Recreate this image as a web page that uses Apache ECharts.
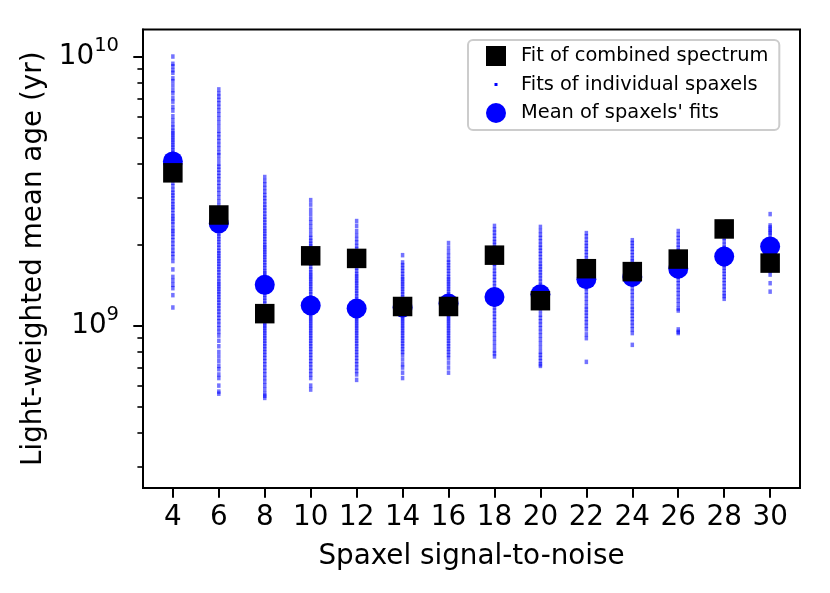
<!DOCTYPE html>
<html>
<head>
<meta charset="utf-8">
<script src="https://cdn.jsdelivr.net/npm/echarts@6/dist/echarts.min.js"></script>
<style>
  html, body { margin: 0; padding: 0; background: #fff; }
  #chart { width: 830px; height: 593px; }
</style>
</head>
<body>
<div id="chart"></div>
<script>
// signal-to-noise bins
var snr = [4, 6, 8, 10, 12, 14, 16, 18, 20, 22, 24, 26, 28, 30];

// ages below are in Gyr (1e9 yr)
var combinedFit = [3.70, 2.58, 1.11, 1.82, 1.78, 1.18, 1.18, 1.83, 1.24, 1.63, 1.59, 1.77, 2.29, 1.71];
var meanOfSpaxels = [4.08, 2.40, 1.42, 1.19, 1.16, 1.17, 1.21, 1.28, 1.31, 1.49, 1.52, 1.63, 1.81, 1.97];

// individual spaxel fits, one list per S/N bin
var spax4 = [10.0, 9.4, 9.2, 8.9, 8.7, 8.3, 8.1, 7.8, 7.5, 7.3, 7.0, 6.8, 6.5, 6.3, 6.0, 5.8, 5.6, 5.45, 5.3, 5.2, 5.1, 5.0, 4.9, 4.8, 4.7, 4.6, 4.5, 4.4, 4.3, 4.2, 4.1, 4.0, 3.9, 3.8, 3.7, 3.6, 3.5, 3.4, 3.3, 3.2, 3.12, 3.05, 2.98, 2.9, 2.83, 2.76, 2.7, 2.62, 2.55, 2.5, 2.44, 2.38, 2.3, 2.25, 2.2, 2.14, 2.08, 2.02, 1.96, 1.9, 1.85, 1.8, 1.74, 1.62, 1.52, 1.47, 1.42, 1.38, 1.3, 1.17];
var spax6 = [7.55, 7.3, 7.1, 6.9, 6.7, 6.5, 6.3, 6.1, 5.9, 5.7, 5.5, 5.3, 5.15, 5.0, 4.85, 4.7, 4.55, 4.4, 4.3, 4.15, 4.0, 3.9, 3.8, 3.7, 3.6, 3.5, 3.4, 3.3, 3.2, 3.1, 3.0, 2.9, 2.8, 2.7, 2.6, 2.5, 2.4, 2.3, 2.2, 2.15, 2.1, 2.05, 2.0, 1.95, 1.9, 1.86, 1.82, 1.78, 1.74, 1.7, 1.66, 1.62, 1.58, 1.54, 1.5, 1.46, 1.43, 1.4, 1.37, 1.34, 1.31, 1.28, 1.25, 1.22, 1.19, 1.16, 1.13, 1.1, 1.07, 1.04, 1.01, 0.98, 0.95, 0.92, 0.88, 0.84, 0.8, 0.77, 0.74, 0.71, 0.69, 0.66, 0.64, 0.6, 0.57, 0.56];
var spax8 = [3.57, 3.45, 3.35, 3.25, 3.15, 3.06, 2.98, 2.9, 2.82, 2.75, 2.68, 2.61, 2.54, 2.48, 2.42, 2.36, 2.3, 2.25, 2.2, 2.15, 2.1, 2.05, 2.0, 1.96, 1.92, 1.88, 1.84, 1.8, 1.76, 1.72, 1.68, 1.64, 1.6, 1.57, 1.54, 1.51, 1.48, 1.45, 1.42, 1.39, 1.36, 1.33, 1.3, 1.27, 1.24, 1.21, 1.18, 1.15, 1.12, 1.1, 1.08, 1.06, 1.04, 1.02, 1.0, 0.98, 0.96, 0.94, 0.92, 0.9, 0.88, 0.86, 0.84, 0.82, 0.8, 0.78, 0.76, 0.74, 0.72, 0.7, 0.68, 0.66, 0.64, 0.62, 0.6, 0.58, 0.56, 0.55, 0.54];
var spax10 = [2.93, 2.82, 2.7, 2.6, 2.5, 2.42, 2.34, 2.26, 2.18, 2.12, 2.07, 2.02, 1.98, 1.94, 1.9, 1.86, 1.82, 1.78, 1.74, 1.7, 1.66, 1.62, 1.58, 1.55, 1.52, 1.49, 1.46, 1.43, 1.4, 1.37, 1.34, 1.31, 1.28, 1.25, 1.22, 1.19, 1.16, 1.13, 1.1, 1.08, 1.06, 1.04, 1.02, 1.0, 0.98, 0.96, 0.94, 0.92, 0.9, 0.88, 0.86, 0.84, 0.82, 0.8, 0.78, 0.76, 0.74, 0.72, 0.7, 0.68, 0.66, 0.64, 0.6, 0.58];
var spax12 = [2.45, 2.35, 2.25, 2.17, 2.1, 2.04, 1.98, 1.93, 1.88, 1.84, 1.8, 1.76, 1.72, 1.68, 1.64, 1.6, 1.56, 1.53, 1.5, 1.47, 1.44, 1.41, 1.38, 1.35, 1.32, 1.29, 1.26, 1.23, 1.2, 1.17, 1.14, 1.12, 1.1, 1.08, 1.06, 1.04, 1.02, 1.0, 0.98, 0.96, 0.94, 0.92, 0.9, 0.88, 0.86, 0.84, 0.82, 0.8, 0.78, 0.76, 0.74, 0.72, 0.7, 0.68, 0.66, 0.63];
var spax14 = [1.83, 1.72, 1.68, 1.64, 1.6, 1.56, 1.52, 1.49, 1.46, 1.43, 1.4, 1.37, 1.34, 1.31, 1.28, 1.25, 1.22, 1.19, 1.16, 1.13, 1.1, 1.08, 1.06, 1.04, 1.02, 1.0, 0.98, 0.96, 0.94, 0.92, 0.9, 0.88, 0.86, 0.84, 0.82, 0.8, 0.78, 0.75, 0.72, 0.7, 0.67, 0.64];
var spax16 = [2.03, 1.95, 1.88, 1.82, 1.76, 1.72, 1.68, 1.64, 1.6, 1.56, 1.52, 1.49, 1.46, 1.43, 1.4, 1.37, 1.34, 1.31, 1.28, 1.25, 1.22, 1.19, 1.16, 1.13, 1.1, 1.08, 1.06, 1.04, 1.02, 1.0, 0.98, 0.96, 0.94, 0.92, 0.9, 0.88, 0.86, 0.84, 0.82, 0.8, 0.78, 0.76, 0.73, 0.7, 0.67];
var spax18 = [2.35, 2.28, 2.22, 2.16, 2.1, 2.05, 2.0, 1.95, 1.9, 1.85, 1.8, 1.75, 1.7, 1.65, 1.6, 1.56, 1.52, 1.48, 1.44, 1.4, 1.36, 1.32, 1.28, 1.24, 1.2, 1.17, 1.14, 1.11, 1.08, 1.05, 1.02, 0.99, 0.96, 0.93, 0.9, 0.87, 0.84, 0.81, 0.79, 0.77];
var spax20 = [2.33, 2.25, 2.18, 2.12, 2.06, 2.0, 1.95, 1.9, 1.85, 1.8, 1.75, 1.7, 1.66, 1.62, 1.58, 1.54, 1.5, 1.46, 1.42, 1.38, 1.34, 1.3, 1.26, 1.22, 1.18, 1.14, 1.1, 1.07, 1.04, 1.01, 0.98, 0.95, 0.92, 0.89, 0.86, 0.83, 0.8, 0.78, 0.76, 0.74, 0.72, 0.71];
var spax22 = [2.21, 2.15, 2.09, 2.03, 1.98, 1.93, 1.88, 1.83, 1.78, 1.74, 1.7, 1.66, 1.62, 1.58, 1.54, 1.5, 1.46, 1.42, 1.38, 1.34, 1.3, 1.26, 1.22, 1.18, 1.15, 1.12, 1.09, 1.06, 1.03, 1.0, 0.97, 0.93, 0.9, 0.735];
var spax24 = [2.08, 2.03, 1.98, 1.93, 1.88, 1.83, 1.78, 1.74, 1.7, 1.66, 1.62, 1.58, 1.54, 1.5, 1.46, 1.42, 1.38, 1.34, 1.3, 1.26, 1.22, 1.18, 1.15, 1.12, 1.09, 1.06, 1.03, 1.0, 0.97, 0.94, 0.85];
var spax26 = [2.25, 2.18, 2.12, 2.06, 2.0, 1.95, 1.9, 1.85, 1.8, 1.75, 1.7, 1.65, 1.6, 1.56, 1.52, 1.48, 1.44, 1.4, 1.36, 1.32, 1.28, 1.24, 1.2, 1.16, 1.14, 0.97, 0.95, 0.94];
var spax28 = [2.3, 2.24, 2.18, 2.12, 2.06, 2.0, 1.95, 1.9, 1.85, 1.8, 1.76, 1.72, 1.68, 1.64, 1.6, 1.56, 1.52, 1.48, 1.44, 1.4, 1.36, 1.32, 1.29, 1.26];
var spax30 = [2.6, 2.36, 2.32, 2.28, 2.24, 2.21, 2.16, 2.1, 2.04, 1.98, 1.92, 1.86, 1.8, 1.75, 1.7, 1.65, 1.6, 1.55, 1.44, 1.34];
var spaxels = [spax4, spax6, spax8, spax10, spax12, spax14, spax16, spax18, spax20, spax22, spax24, spax26, spax28, spax30];

// y axis: log10 of age in yr
var yMin = Math.log10(2.5e8), yMax = Math.log10(1.26e10);
var majorTicks = [9, 10];
var minorTicks = [];
[8, 9].forEach(function (p) {
	for (var k = 2; k <= 9; k++) {
		var v = Math.log10(k) + p;
		if (v > yMin && v < yMax) minorTicks.push(v);
	}
});

function lg(gyr) { return Math.log10(gyr * 1e9); }

var spaxData = [];
for (var i = 0; i < snr.length; i++) {
	for (var j = 0; j < spaxels[i].length; j++) {
		spaxData.push([snr[i], lg(spaxels[i][j])]);
	}
}
var meanData = snr.map(function (s, i) { return [s, lg(meanOfSpaxels[i])]; });
var combData = snr.map(function (s, i) { return [s, lg(combinedFit[i])]; });

var FONT = 'DejaVu Sans';

var chart = echarts.init(document.getElementById('chart'));
chart.setOption({
	animation: false,
	backgroundColor: '#fff',
	textStyle: { fontFamily: FONT },
	grid: {
		left: 143, right: 30, top: 29.5, bottom: 105,
		show: true, borderColor: '#000', borderWidth: 2, backgroundColor: 'transparent'
	},
	legend: {
		orient: 'vertical',
		left: 468, top: 40,
		padding: [5, 11, 6, 18],
		itemWidth: 40, itemHeight: 20, itemGap: 6.5,
		backgroundColor: 'rgba(255,255,255,0.8)',
		borderColor: '#cccccc', borderWidth: 2, borderRadius: 5,
		selectedMode: false,
		textStyle: { fontFamily: FONT, fontSize: 19.4, color: '#000', lineHeight: 22 },
		data: [
			{ name: 'Fit of combined spectrum', icon: 'path://M0,0H10V10H0Z' },
			{ name: 'Fits of individual spaxels', icon: 'path://M0,0M20,20M8.5,8.5H11.5V11.5H8.5Z', itemStyle: { opacity: 1 } },
			{ name: "Mean of spaxels' fits", icon: 'circle' }
		]
	},
	xAxis: {
		type: 'value', min: 2.7, max: 31.3,
		name: 'Spaxel signal-to-noise', nameLocation: 'middle', nameGap: 55,
		nameTextStyle: { fontFamily: FONT, fontSize: 27.8, color: '#000' },
		axisLine: { show: true, lineStyle: { color: '#000', width: 2 } },
		axisTick: { show: true, customValues: snr, length: 9.7, lineStyle: { color: '#000', width: 2 } },
		axisLabel: { customValues: snr, margin: 16, fontFamily: FONT, fontSize: 27.8, color: '#000' },
		splitLine: { show: false }
	},
	yAxis: [{
		type: 'value', min: yMin, max: yMax, position: 'left',
		name: 'Light-weighted mean age (yr)', nameLocation: 'middle', nameGap: 91, nameRotate: 90,
		nameTextStyle: { fontFamily: FONT, fontSize: 27.8, color: '#000' },
		axisLine: { show: true, lineStyle: { color: '#000', width: 2 } },
		axisTick: { show: true, customValues: majorTicks, length: 9.7, lineStyle: { color: '#000', width: 2 } },
		axisLabel: {
			customValues: majorTicks, margin: 24, color: '#000',
			formatter: function (v) { return '{b|10}{s|' + Math.round(v) + '}'; },
			rich: {
				b: { fontFamily: FONT, fontSize: 27.8, lineHeight: 28, color: '#000' },
				s: { fontFamily: FONT, fontSize: 19.5, lineHeight: 20, padding: [0, 0, 22, 0], color: '#000' }
			}
		},
		splitLine: { show: false }
	}, {
		type: 'value', min: yMin, max: yMax, position: 'left',
		axisLine: { show: false },
		axisTick: { show: true, customValues: minorTicks, length: 5.6, lineStyle: { color: '#000', width: 1.6 } },
		axisLabel: { show: false },
		splitLine: { show: false }
	}],
	series: [{
		name: 'Fits of individual spaxels',
		type: 'scatter',
		symbol: 'rect', symbolSize: [3.5, 4.5],
		itemStyle: { color: '#0000ff', opacity: 0.55 },
		data: spaxData
	}, {
		name: "Mean of spaxels' fits",
		type: 'scatter',
		symbol: 'circle', symbolSize: 20,
		itemStyle: { color: '#0000ff', opacity: 1 },
		data: meanData
	}, {
		name: 'Fit of combined spectrum',
		type: 'scatter',
		symbol: 'rect', symbolSize: 19.5,
		itemStyle: { color: '#000', opacity: 1 },
		data: combData
	}]
});
</script>
</body>
</html>
